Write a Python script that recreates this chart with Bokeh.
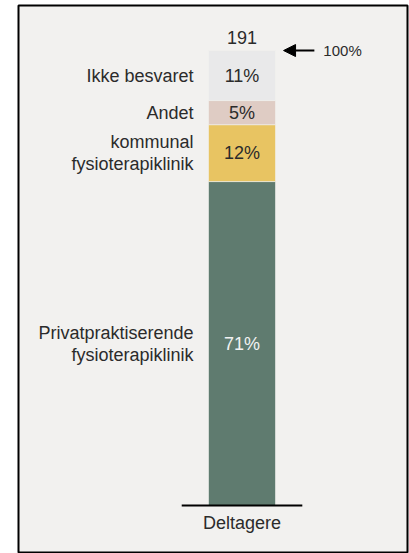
import numpy as np
from bokeh.plotting import figure
from bokeh.models import ColumnDataSource, Range1d, Arrow, NormalHead
from bokeh.core.properties import value
from bokeh.embed import file_html
from bokeh.resources import INLINE

# ---- data ----
categories = ["Privatpraktiserende\nfysioterapiklinik", "kommunal\nfysioterapiklinik", "Andet", "Ikke besvaret"]
shares = [71.2, 12.5, 5.3, 11.0]          # bar segment heights (% of participants)
pct_labels = ["71%", "12%", "5%", "11%"]
colors = ["#5f7b6f", "#e8c462", "#dfccc4", "#e9e9ea"]
label_colors = ["#f2f2f2", "#2b2b2b", "#2b2b2b", "#2b2b2b"]
group = "Deltagere"
n_total = 191
total_label = "100%"

FONT = value("Liberation Sans")
BG = "#f2f1ef"
TXT = "#2b2b2b"
FS = "18px"
BAR_W = 1.0

tops = np.cumsum(shares)
bottoms = tops - np.array(shares)
mids = (tops + bottoms) / 2
xs = [0.0] * len(shares)

src = ColumnDataSource(dict(x=xs, bottom=bottoms, top=tops, mid=mids, color=colors,
                            cat=categories, pct=pct_labels, lc=label_colors))

p = figure(width=409, height=553, output_backend="svg", toolbar_location=None,
           x_axis_type=None, y_axis_type=None,
           x_range=Range1d(-3.336, 2.470), y_range=Range1d(-10.55, 109.9),
           min_border_left=18, min_border_top=5, min_border_right=2, min_border_bottom=0)
p.border_fill_color = "white"
p.background_fill_color = BG
p.outline_line_color = "black"
p.outline_line_width = 2
p.grid.visible = False

p.vbar(x="x", bottom="bottom", top="top", width=BAR_W, fill_color="color",
       line_color=BG, line_width=0.6, source=src)

# percentage labels inside segments
p.text(x="x", y="mid", text="pct", text_color="lc", text_font=FONT, text_font_size=FS,
       text_align="center", text_baseline="middle", source=src)

# category labels to the left
p.text(x=-BAR_W / 2, y="mid", text="cat", x_offset=-15, text_color=TXT, text_font=FONT,
       text_font_size=FS, text_align="right", text_baseline="middle",
       text_line_height=1.1, source=src)

# baseline axis line and group label
p.segment(x0=[-0.9], y0=[0], x1=[0.9], y1=[0], line_color="black", line_width=2)
p.text(x=[0], y=[0], text=[group], y_offset=17, text_color=TXT, text_font=FONT,
       text_font_size=FS, text_align="center", text_baseline="middle")

# total n above bar
p.text(x=[0], y=[tops[-1]], text=[str(n_total)], y_offset=-13, text_color=TXT,
       text_font=FONT, text_font_size=FS, text_align="center", text_baseline="middle")

# arrow + 100%
ax0 = BAR_W / 2 + 0.58
ax1 = BAR_W / 2 + 0.12
p.add_layout(Arrow(x_start=ax0, y_start=tops[-1], x_end=ax1, y_end=tops[-1],
                   line_color="black", line_width=2,
                   end=NormalHead(size=12, fill_color="black", line_color="black")))
p.text(x=[ax0], y=[tops[-1]], text=[total_label], x_offset=9, text_color=TXT,
       text_font=FONT, text_font_size="15px", text_align="left", text_baseline="middle")

open("out.html", "w").write(file_html(p, INLINE))
